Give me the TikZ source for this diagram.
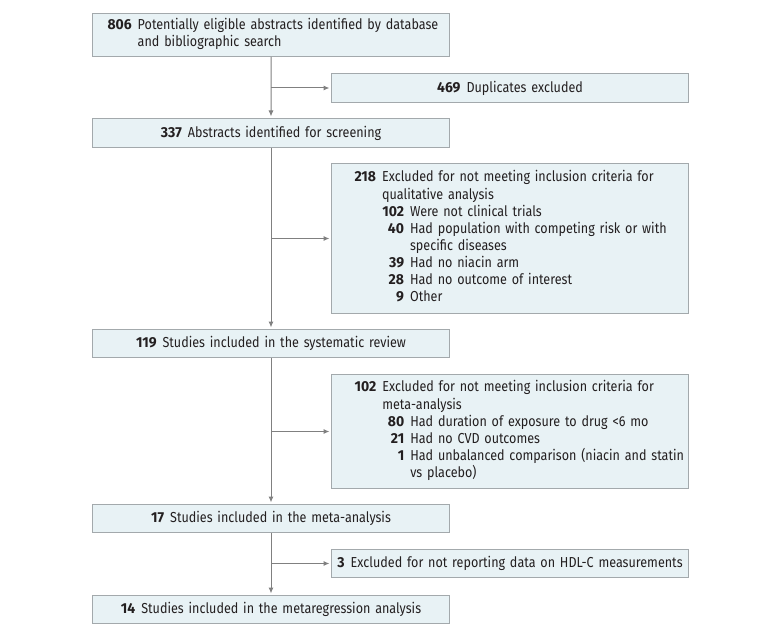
\documentclass[tikz,border=0pt]{standalone}
\usepackage{fontspec}
\setmainfont{Fira Sans}[FakeStretch=0.87]
\newfontfamily\nbfont{Fira Sans}[FakeStretch=0.97]
\usetikzlibrary{arrows.meta}
\definecolor{boxfill}{HTML}{E8F2F5}
\definecolor{boxline}{HTML}{A3A9AC}
\definecolor{arrgray}{HTML}{808080}
\definecolor{txtc}{HTML}{231F20}
\newcommand{\nb}[1]{{\nbfont\bfseries #1}}
\newcommand{\sbi}[2]{\makebox[22bp][r]{\nb{#1}}\hspace{6bp}#2}
\newcommand{\sbc}[1]{\hspace{28bp}#1}
\newenvironment{flist}{\begin{tabular}{@{}r@{\hspace{6bp}}l@{}}}{\end{tabular}}
\tikzset{
  box/.style={draw=boxline, fill=boxfill, line width=1bp, inner ysep=0pt,
    anchor=north west, text=txtc},
  mainc/.style={box, text width=357bp, inner xsep=0pt, align=center, minimum height=28bp},
  flow/.style={draw=arrgray, line width=1bp, -{Latex[length=6bp,width=5bp]}, shorten >=1.5bp},
}
\begin{document}
\begin{tikzpicture}[x=1bp,y=-1bp, font=\fontsize{14.5}{17.2}\selectfont]
\useasboundingbox (0,0) rectangle (780,636);
% main column
\node[box, minimum height=43bp, text width=327bp, inner xsep=15bp, align=left] (b1) at (92,13)
  {\begin{flist}\nb{806} & Potentially eligible abstracts identified by database\\
   & and bibliographic search\end{flist}};
\node[mainc, minimum height=29bp] (b337) at (92,118) {\nb{337}\hspace{6bp}Abstracts identified for screening};
\node[mainc] (b119) at (92,329) {\nb{119}\hspace{6bp}Studies included in the systematic review};
\node[mainc] (b17) at (92,504) {\nb{17}\hspace{6bp}Studies included in the meta-analysis};
\node[mainc] (b14) at (92,595) {\nb{14}\hspace{6bp}Studies included in the metaregression analysis};
% side boxes
\node[mainc, minimum height=29bp] (e469) at (331,73) {\nb{469}\hspace{6bp}Duplicates excluded};
\node[box, minimum height=150bp, text width=311bp, inner xsep=23bp, align=left] (e218) at (331,163)
  {\begin{flist}\nb{218} & Excluded for not meeting inclusion criteria for\\
   & qualitative analysis\\
   & \sbi{102}{Were not clinical trials}\\
   & \sbi{40}{Had population with competing risk or with}\\
   & \sbc{specific diseases}\\
   & \sbi{39}{Had no niacin arm}\\
   & \sbi{28}{Had no outcome of interest}\\
   & \sbi{9}{Other}\end{flist}};
\node[box, minimum height=114bp, text width=311bp, inner xsep=23bp, align=left] (e102) at (331,374)
  {\begin{flist}\nb{102} & Excluded for not meeting inclusion criteria for\\
   & meta-analysis\\
   & \sbi{80}{Had duration of exposure to drug <6 mo}\\
   & \sbi{21}{Had no CVD outcomes}\\
   & \sbi{1}{Had unbalanced comparison (niacin and statin}\\
   & \sbc{vs placebo)}\end{flist}};
\node[mainc] (e3) at (331,549) {\nb{3}\hspace{6bp}Excluded for not reporting data on HDL-C measurements};
% connectors
\draw[flow] (b1.south) -- (b337.north);
\draw[flow] (b337.south) -- (b119.north);
\draw[flow] (b119.south) -- (b17.north);
\draw[flow] (b17.south) -- (b14.north);
\draw[flow] (b1.south |- e469.west) -- (e469.west);
\draw[flow] (b337.south |- e218.west) -- (e218.west);
\draw[flow] (b119.south |- e102.west) -- (e102.west);
\draw[flow] (b17.south |- e3.west) -- (e3.west);
\end{tikzpicture}
\end{document}
